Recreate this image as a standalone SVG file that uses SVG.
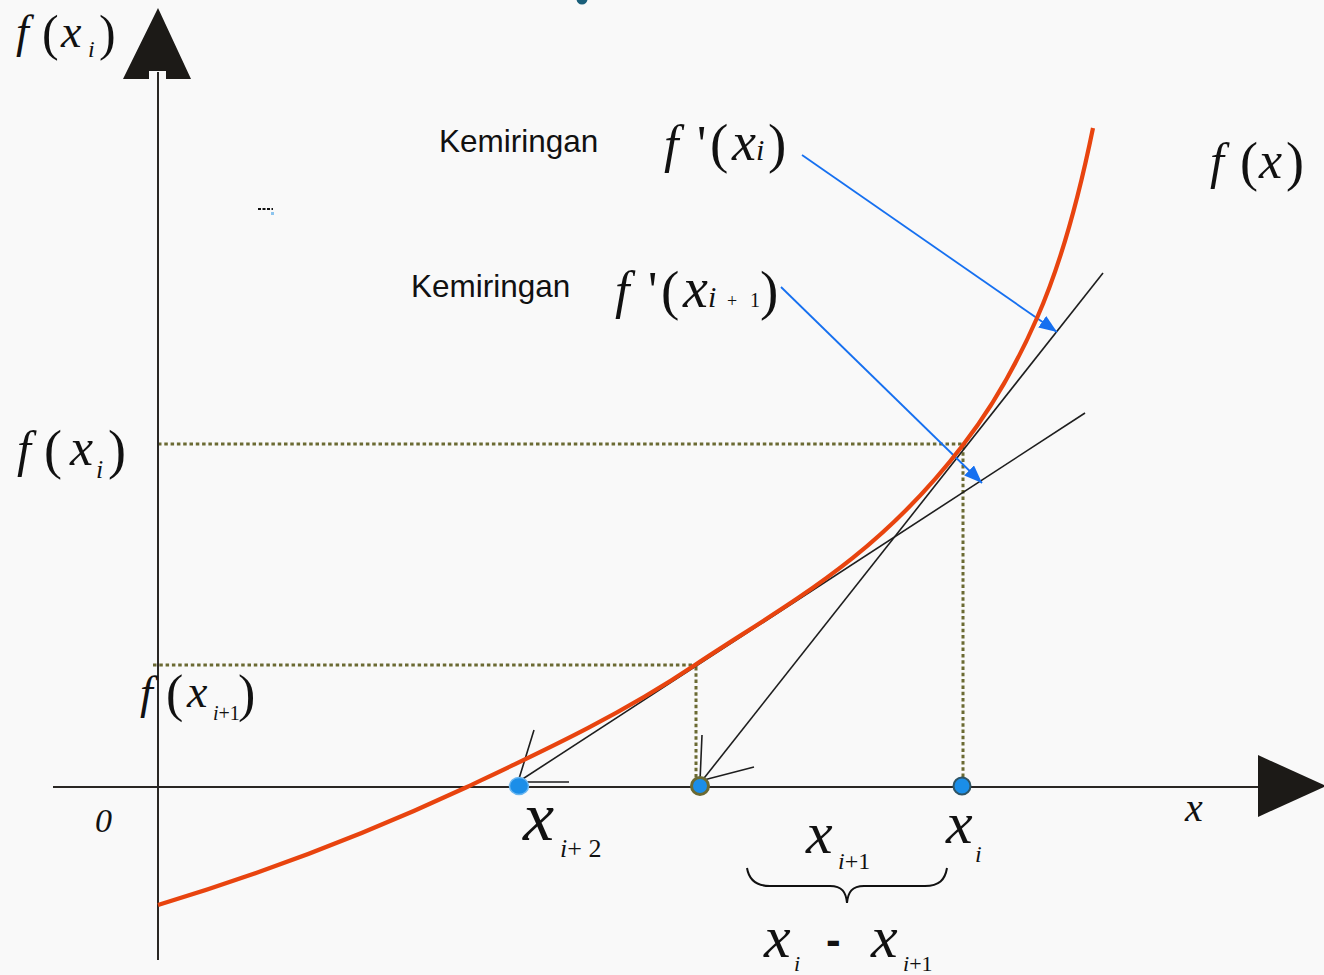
<svg xmlns="http://www.w3.org/2000/svg" width="1324" height="975" viewBox="0 0 1324 975">
<defs>
<style>
.ax{stroke:#2a2724;stroke-width:2;fill:none}
.tan{stroke:#1e1e1e;stroke-width:1.6;fill:none}
.dt{stroke:#6b6a33;stroke-width:3;stroke-dasharray:3.5 2.8;fill:none}
.bl{stroke:#1670f0;stroke-width:1.8;fill:none}
.m{font-family:"Liberation Serif","Times New Roman",serif;fill:#111}
.it{font-style:italic}
.s{font-family:"Liberation Sans",Arial,sans-serif;fill:#111}
</style>
<marker id="ah" viewBox="0 0 18 14" refX="18" refY="7" markerWidth="18" markerHeight="14" markerUnits="userSpaceOnUse" orient="auto">
<path d="M0,0 L18,7 L0,14 z" fill="#1670f0"/>
</marker>
</defs>
<rect width="1324" height="975" fill="#f9f9f9"/>

<g id="guides">
<line class="dt" x1="158" y1="444" x2="966" y2="444"/>
<line class="dt" x1="963" y1="446" x2="963" y2="782"/>
<line class="dt" x1="153" y1="665" x2="698" y2="665"/>
<line class="dt" x1="696" y1="667" x2="696" y2="782"/>
</g>

<g id="axes">
<line class="ax" x1="158" y1="72" x2="158" y2="960"/>
<polygon points="158,8 191,79 166,79 166,71 149,71 149,79 123,79" fill="#1c1a17"/>
<line class="ax" x1="53" y1="787" x2="1260" y2="787"/>
<polygon points="1258,755 1326,786 1258,817" fill="#1c1a17"/>
</g>

<g id="connectors">
<line class="tan" x1="701" y1="782" x2="1103" y2="273"/>
<line class="tan" x1="518" y1="782" x2="1085" y2="413"/>
<polyline class="tan" points="534,730 518,782 569,782"/>
<polyline class="tan" points="702,735 700,781 754,767"/>
<line class="bl" x1="802" y1="155" x2="1057" y2="332" marker-end="url(#ah)"/>
<line class="bl" x1="781" y1="287" x2="982" y2="483" marker-end="url(#ah)"/>
</g>

<g id="curve">
<path d="M158,905 C261,874 364,835 467,787 C543,751 619,716 695,665 C785,605 875,560 963,445 C988,413 1012,375 1037,318 C1056,275 1074,221 1093,128" fill="none" stroke="#e8440f" stroke-width="4.2"/>
</g>

<g id="points">
<ellipse cx="519" cy="786" rx="9.5" ry="8.5" fill="#1b8ee8" stroke="#69b6f0" stroke-width="1.5"/>
<circle cx="700" cy="786" r="8.5" fill="#1b8ee8" stroke="#6b6a33" stroke-width="3"/>
<circle cx="962" cy="786" r="8.5" fill="#1b8ee8" stroke="#2f5566" stroke-width="2"/>
<circle cx="582" cy="-1" r="5.5" fill="#1a5f7a"/>
<line x1="258" y1="209" x2="273" y2="209" stroke="#111" stroke-width="2" stroke-dasharray="3 1.5"/>
<rect x="271" y="212" width="3" height="3" fill="#8cc4ee"/>
</g>

<g id="label-fxi-top" class="m">
<text x="16" y="47" font-size="46" class="it">f</text>
<text x="42" y="50" font-size="50">(</text>
<text x="61" y="47" font-size="46" class="it">x</text>
<text x="88" y="57" font-size="24" class="it">i</text>
<text x="99" y="50" font-size="50">)</text>
</g>

<g id="label-fxi-left" class="m">
<text x="17" y="466" font-size="50" class="it">f</text>
<text x="44" y="468" font-size="54">(</text>
<text x="70" y="465" font-size="52" class="it">x</text>
<text x="96" y="478" font-size="26" class="it">i</text>
<text x="108" y="468" font-size="54">)</text>
</g>

<g id="label-fxi1-left" class="m">
<text x="140" y="708" font-size="46" class="it">f</text>
<text x="166" y="711" font-size="52">(</text>
<text x="187" y="707" font-size="46" class="it">x</text>
<text x="213" y="720" font-size="20"><tspan class="it">i</tspan>+1</text>
<text x="238" y="711" font-size="52">)</text>
</g>

<text id="label-zero" class="m it" x="95" y="832" font-size="34">0</text>

<g id="label-slope1">
<text class="s" x="439" y="152" font-size="31.5">Kemiringan</text>
<g class="m">
<text x="664" y="162" font-size="52" class="it">f</text>
<text x="697" y="162" font-size="52">'</text>
<text x="710" y="162" font-size="55">(</text>
<text x="732" y="160" font-size="54" class="it">x</text>
<text x="756" y="160" font-size="30" class="it">i</text>
<text x="768" y="162" font-size="55">)</text>
</g>
</g>

<g id="label-slope2">
<text class="s" x="411" y="297" font-size="31.5">Kemiringan</text>
<g class="m">
<text x="615" y="308" font-size="52" class="it">f</text>
<text x="648" y="308" font-size="52">'</text>
<text x="661" y="309" font-size="55">(</text>
<text x="683" y="307" font-size="56" class="it">x</text>
<text x="708" y="307" font-size="30" class="it">i</text>
<text x="727" y="307" font-size="18">+</text>
<text x="750" y="307" font-size="20">1</text>
<text x="760" y="309" font-size="55">)</text>
</g>
</g>

<g id="label-fx" class="m">
<text x="1210" y="178" font-size="50" class="it">f</text>
<text x="1240" y="180" font-size="54">(</text>
<text x="1259" y="178" font-size="52" class="it">x</text>
<text x="1286" y="180" font-size="54">)</text>
</g>

<g id="label-xi2" class="m">
<text x="523" y="840" font-size="70" class="it">x</text>
<text x="560" y="857" font-size="26"><tspan class="it">i</tspan>+ 2</text>
</g>

<g id="label-xi1" class="m">
<text x="806" y="853" font-size="60" class="it">x</text>
<text x="838" y="869" font-size="24"><tspan class="it">i</tspan>+1</text>
</g>

<g id="label-xi" class="m">
<text x="946" y="843" font-size="60" class="it">x</text>
<text x="975" y="862" font-size="24" class="it">i</text>
</g>

<g id="brace">
<path d="M747,868 C749,880 756,886 770,886 L830,886 C842,886 846,892 847,903 C848,892 852,886 864,886 L925,886 C939,886 945,880 947,868" fill="none" stroke="#111" stroke-width="2"/>
</g>

<g id="label-diff" class="m">
<text x="764" y="957" font-size="60" class="it">x</text>
<text x="794" y="971" font-size="22" class="it">i</text>
<text x="826" y="955" font-size="44" font-weight="bold" font-family="Liberation Sans, Arial, sans-serif">-</text>
<text x="871" y="957" font-size="60" class="it">x</text>
<text x="903" y="971" font-size="22"><tspan class="it">i</tspan>+1</text>
</g>

<text id="label-x-axis" class="m it" x="1185" y="821" font-size="40">x</text>
</svg>
